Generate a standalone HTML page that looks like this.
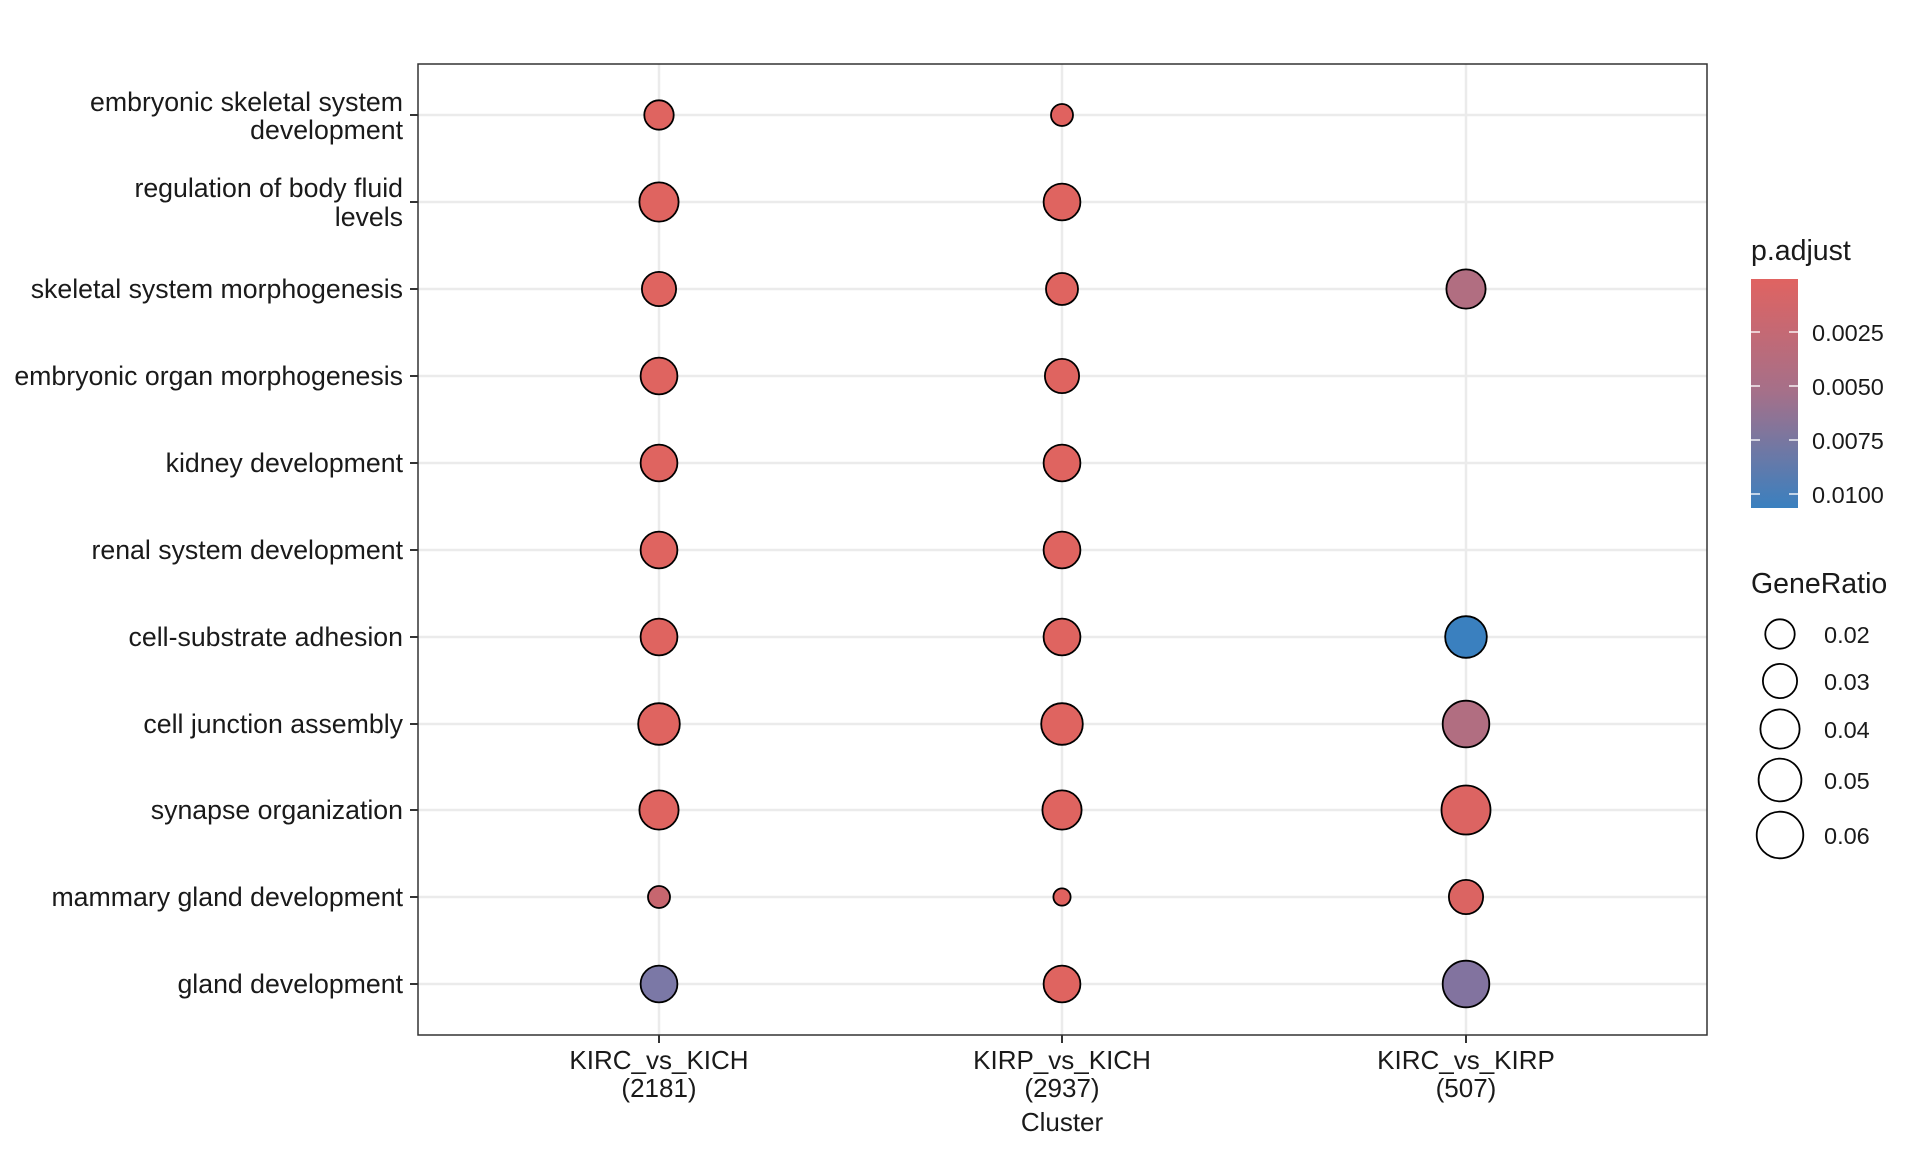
<!DOCTYPE html>
<html><head><style>body{margin:0;background:#fff}svg{display:block}text{font-family:"Liberation Sans",sans-serif;fill:#1a1a1a}</style></head>
<body>
<svg width="1920" height="1152" viewBox="0 0 1920 1152" xmlns="http://www.w3.org/2000/svg">
<defs><linearGradient id="g" x1="0" y1="0" x2="0" y2="1"><stop offset="0" stop-color="#E06361"/><stop offset="0.5" stop-color="#A4708A"/><stop offset="1" stop-color="#3A80BF"/></linearGradient></defs>
<rect x="0" y="0" width="1920" height="1152" fill="#fff"/>
<g stroke="#ebebeb" stroke-width="2.5">
<line x1="418" x2="1707" y1="115" y2="115"/><line x1="418" x2="1707" y1="202" y2="202"/><line x1="418" x2="1707" y1="289" y2="289"/><line x1="418" x2="1707" y1="376" y2="376"/><line x1="418" x2="1707" y1="463" y2="463"/><line x1="418" x2="1707" y1="550" y2="550"/><line x1="418" x2="1707" y1="637" y2="637"/><line x1="418" x2="1707" y1="724" y2="724"/><line x1="418" x2="1707" y1="810" y2="810"/><line x1="418" x2="1707" y1="897" y2="897"/><line x1="418" x2="1707" y1="984" y2="984"/>
<line x1="659" x2="659" y1="64" y2="1035"/><line x1="1062" x2="1062" y1="64" y2="1035"/><line x1="1466" x2="1466" y1="64" y2="1035"/>
</g>
<rect x="418" y="64" width="1289" height="971" fill="none" stroke="#333" stroke-width="1.5"/>
<g stroke="#333" stroke-width="2">
<line x1="410" x2="418" y1="115" y2="115"/><line x1="410" x2="418" y1="202" y2="202"/><line x1="410" x2="418" y1="289" y2="289"/><line x1="410" x2="418" y1="376" y2="376"/><line x1="410" x2="418" y1="463" y2="463"/><line x1="410" x2="418" y1="550" y2="550"/><line x1="410" x2="418" y1="637" y2="637"/><line x1="410" x2="418" y1="724" y2="724"/><line x1="410" x2="418" y1="810" y2="810"/><line x1="410" x2="418" y1="897" y2="897"/><line x1="410" x2="418" y1="984" y2="984"/>
<line x1="659" x2="659" y1="1035" y2="1043"/><line x1="1062" x2="1062" y1="1035" y2="1043"/><line x1="1466" x2="1466" y1="1035" y2="1043"/>
</g>
<g font-size="26.7" text-anchor="end">
<text x="403" y="111">embryonic skeletal system</text><text x="403" y="139">development</text>
<text x="403" y="197">regulation of body fluid</text><text x="403" y="226">levels</text>
<text x="403" y="298">skeletal system morphogenesis</text>
<text x="403" y="385">embryonic organ morphogenesis</text>
<text x="403" y="472">kidney development</text>
<text x="403" y="559">renal system development</text>
<text x="403" y="646">cell-substrate adhesion</text>
<text x="403" y="733">cell junction assembly</text>
<text x="403" y="819">synapse organization</text>
<text x="403" y="906">mammary gland development</text>
<text x="403" y="993">gland development</text>
</g>
<g font-size="26" text-anchor="middle">
<text x="659" y="1069">KIRC_vs_KICH</text><text x="659" y="1097">(2181)</text>
<text x="1062" y="1069">KIRP_vs_KICH</text><text x="1062" y="1097">(2937)</text>
<text x="1466" y="1069">KIRC_vs_KIRP</text><text x="1466" y="1097">(507)</text>
<text x="1062" y="1131">Cluster</text>
</g>
<g stroke="#000" stroke-width="1.8">
<circle cx="659" cy="115" r="14.7" fill="#DF6460"/><circle cx="1062" cy="115" r="11" fill="#E0625F"/>
<circle cx="659" cy="202" r="19.6" fill="#DF6460"/><circle cx="1062" cy="202" r="18.4" fill="#DF6460"/>
<circle cx="659" cy="289" r="17.1" fill="#DF6460"/><circle cx="1062" cy="289" r="16" fill="#DF6460"/><circle cx="1466" cy="289" r="19.6" fill="#B16E81"/>
<circle cx="659" cy="376" r="18.4" fill="#DF6460"/><circle cx="1062" cy="376" r="17.1" fill="#DF6460"/>
<circle cx="659" cy="463" r="18.4" fill="#DF6460"/><circle cx="1062" cy="463" r="18.4" fill="#DF6460"/>
<circle cx="659" cy="550" r="18.4" fill="#DF6460"/><circle cx="1062" cy="550" r="18.4" fill="#DF6460"/>
<circle cx="659" cy="637" r="18.4" fill="#DF6460"/><circle cx="1062" cy="637" r="18.4" fill="#DF6460"/><circle cx="1466" cy="637" r="20.8" fill="#3A80BF"/>
<circle cx="659" cy="724" r="20.8" fill="#DF6460"/><circle cx="1062" cy="724" r="20.8" fill="#DF6460"/><circle cx="1466" cy="724" r="23.3" fill="#B16E81"/>
<circle cx="659" cy="810" r="19.6" fill="#DF6460"/><circle cx="1062" cy="810" r="19.6" fill="#DF6460"/><circle cx="1466" cy="810" r="24.5" fill="#DC6462"/>
<circle cx="659" cy="897" r="11" fill="#C7666F"/><circle cx="1062" cy="897" r="8.6" fill="#E0625F"/><circle cx="1466" cy="897" r="17.1" fill="#DB6462"/>
<circle cx="659" cy="984" r="18.4" fill="#7B78A6"/><circle cx="1062" cy="984" r="18.4" fill="#DF6460"/><circle cx="1466" cy="984" r="23.3" fill="#82739F"/>
</g>
<text x="1751" y="260" font-size="28.5">p.adjust</text>
<rect x="1751" y="279" width="47" height="229" fill="url(#g)"/>
<g stroke="#fff" stroke-width="1.5" opacity="0.9">
<line x1="1751" x2="1760" y1="332" y2="332"/><line x1="1789" x2="1798" y1="332" y2="332"/>
<line x1="1751" x2="1760" y1="386" y2="386"/><line x1="1789" x2="1798" y1="386" y2="386"/>
<line x1="1751" x2="1760" y1="440" y2="440"/><line x1="1789" x2="1798" y1="440" y2="440"/>
<line x1="1751" x2="1760" y1="494" y2="494"/><line x1="1789" x2="1798" y1="494" y2="494"/>
</g>
<g font-size="23.5">
<text x="1812" y="341">0.0025</text><text x="1812" y="395">0.0050</text><text x="1812" y="449">0.0075</text><text x="1812" y="503">0.0100</text>
</g>
<text x="1751" y="593" font-size="28.5">GeneRatio</text>
<g stroke="#000" stroke-width="1.8" fill="#fff">
<circle cx="1780" cy="634" r="14.7"/><circle cx="1780" cy="681" r="17.1"/><circle cx="1780" cy="729" r="19.6"/><circle cx="1780" cy="780" r="21.4"/><circle cx="1780" cy="835" r="23.3"/>
</g>
<g font-size="23.5">
<text x="1824" y="643">0.02</text><text x="1824" y="690">0.03</text><text x="1824" y="738">0.04</text><text x="1824" y="789">0.05</text><text x="1824" y="844">0.06</text>
</g>
</svg>
</body></html>
